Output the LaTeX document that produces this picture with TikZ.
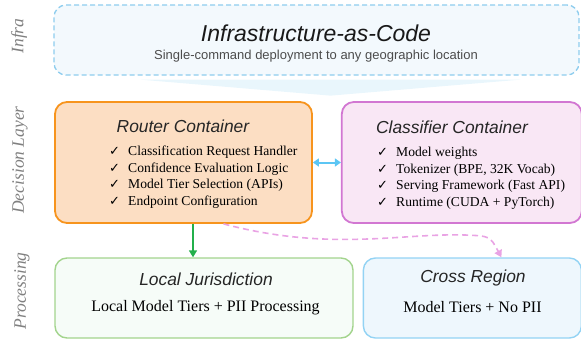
\documentclass[tikz,border=0pt]{standalone}
\usepackage{fontspec}
\setmainfont{Liberation Serif}
\setsansfont{Liberation Sans}
\newfontfamily\checkfont{DejaVu Sans}
\usetikzlibrary{positioning, arrows.meta}
\definecolor{infraline}{HTML}{8ECDEE}
\definecolor{infrafill}{HTML}{F3F9FD}
\definecolor{fanfill}{HTML}{E9F6FC}
\definecolor{routerline}{HTML}{F7941D}
\definecolor{routerfill}{HTML}{FCDEC3}
\definecolor{classline}{HTML}{D277D2}
\definecolor{classfill}{HTML}{F9E7F5}
\definecolor{localline}{HTML}{A3D48D}
\definecolor{localfill}{HTML}{F6FCF8}
\definecolor{crossline}{HTML}{93D3F4}
\definecolor{crossfill}{HTML}{EEF7FD}
\definecolor{greenarrow}{HTML}{23B04B}
\definecolor{pinkarrow}{HTML}{E9A3E4}
\definecolor{bluearrow}{HTML}{5CC6F4}
\tikzset{
box/.style={rounded corners=12pt, minimum height=121pt, inner sep=0pt}, % the big containers
lowbox/.style={box, minimum height=80pt, line width=1.4pt}, % the processing boxes
boxtitle/.style={font=\sffamily\itshape\fontsize{17.4}{20}\selectfont, text=black!85}, % italic heading in a box
items/.style={align=left, anchor=north west, inner sep=0pt, font=\fontsize{13.6}{16.6}\selectfont}, % check lists
body/.style={font=\fontsize{16}{19}\selectfont}, % plain text in the processing boxes
layer/.style={rotate=90, text=gray, font=\itshape\fontsize{17.5}{19}\selectfont}, % layer names on the left
}
\newcommand{\chk}{\makebox[19pt][l]{\checkfont\fontsize{13}{11}\selectfont ✓}}

\begin{document}
\begin{tikzpicture}[x=1pt, y=-1pt]
\useasboundingbox (0,0) rectangle (581,341);
% infrastructure band
\node[box, draw=infraline, fill=infrafill, dashed, line width=1.3pt, dash pattern=on 5pt off 3pt,
  minimum width=525pt, minimum height=70pt] (infra) at (316.5,40) {};
\node[font=\sffamily\itshape\fontsize{23}{26}\selectfont, text=black!90] (infratitle) at (316,33) {Infrastructure-as-Code};
\node[font=\sffamily\fontsize{13}{15}\selectfont, text=black!70] (infrasub) at (316,56.5) {Single-command deployment to any geographic location};
\fill[fanfill] ([xshift=-176pt,yshift=-4pt]infra.south) -- ([xshift=204pt,yshift=-4pt]infra.south) -- ([xshift=14pt,yshift=-20pt]infra.south) -- cycle;

% decision layer
\node[box, draw=routerline, fill=routerfill, line width=1.8pt, minimum width=257pt] (router) at (183.5,162.5) {};
\node[box, draw=classline, fill=classfill, line width=1.8pt, minimum width=240pt, right=28pt of router] (classifier) {};
\node[boxtitle] (routertitle) at (183,126) {Router Container};
\node[boxtitle] (classtitle) at (452,127) {Classifier Container};
\node[items] (routeritems) at (109,146) {\chk Classification Request Handler\\ \chk Confidence Evaluation Logic\\ \chk Model Tier Selection (APIs)\\ \chk Endpoint Configuration};
\node[items] (classitems) at (377,147) {\chk Model weights\\ \chk Tokenizer (BPE, 32K Vocab)\\ \chk Serving Framework (Fast API)\\ \chk Runtime (CUDA + PyTorch)};

% processing layer
\node[lowbox, draw=localline, fill=localfill, minimum width=298pt] (local) at (204,298) {};
\node[lowbox, draw=crossline, fill=crossfill, minimum width=218pt, right=9pt of local] (cross) {};
\node[boxtitle] (localtitle) at (206,279) {Local Jurisdiction};
\node[body] (localbody) at (205.5,308) {Local Model Tiers + PII Processing};
\node[boxtitle] (crosstitle) at (473,278) {Cross Region};
\node[body] (crossbody) at (472.5,307) {Model Tiers + No PII};

% layer names
\node[layer] (infralabel) at (19,36) {Infra};
\node[layer] (decisionlabel) at (20,160) {Decision Layer};
\node[layer] (proclabel) at (22,291) {Processing};

% connectors
\draw[{Triangle[width=8pt,length=6pt]}-{Triangle[width=8pt,length=6pt]}, bluearrow, line width=2pt]
  (router.east) -- (classifier.west);
\draw[-{Triangle[width=8pt,length=7pt]}, greenarrow, line width=1.6pt]
  ([xshift=9.5pt]router.south) -- ([xshift=9.5pt]router.south |- local.north);
\draw[-{Triangle[width=8pt,length=7pt]}, pinkarrow, line width=1.6pt, dash pattern=on 6pt off 4pt]
  ([xshift=40pt]router.south) .. controls (330,252) and (400,233) .. (465,235)
  .. controls (490,236) .. ([xshift=29pt]cross.north);
\end{tikzpicture}
\end{document}
